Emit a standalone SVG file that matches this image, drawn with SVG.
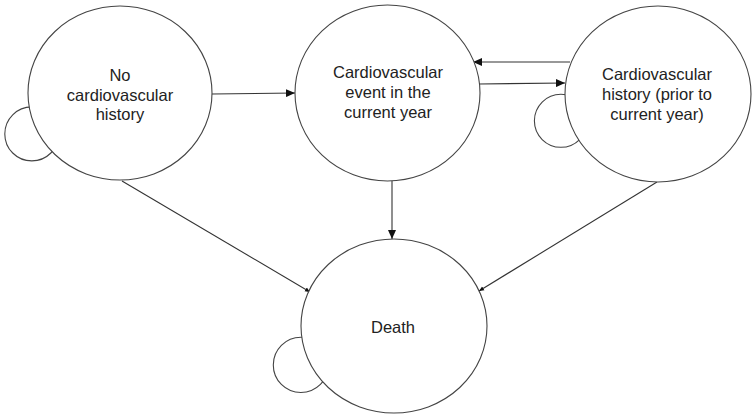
<svg xmlns="http://www.w3.org/2000/svg" width="755" height="417" viewBox="0 0 755 417">
<style>
.node{fill:#fff;stroke:#444;stroke-width:1.1}
.loop{fill:none;stroke:#444;stroke-width:1.1}
.edge{fill:none;stroke:#333;stroke-width:1.1}
.lbl{font-family:"Liberation Sans",Arial,sans-serif;font-size:16.5px;fill:#222;text-anchor:middle}
</style>
<defs>
<marker id="arr" markerWidth="10" markerHeight="8" refX="9" refY="4" orient="auto" markerUnits="userSpaceOnUse">
<path d="M0,0 L9,4 L0,8 Z" fill="#111"/>
</marker>
<marker id="arrs" markerWidth="6" markerHeight="6" refX="5" refY="3" orient="auto" markerUnits="userSpaceOnUse">
<path d="M0,0.8 L5,3 L0,5.2 Z" fill="#111"/>
</marker>
</defs>
<rect width="755" height="417" fill="#fff"/>
<g id="connectors">
<path class="edge" d="M212,94 L295,93" marker-end="url(#arr)"/>
<path class="edge" d="M479,84 L565,83" marker-end="url(#arr)"/>
<path class="edge" d="M570,62 L473,62" marker-end="url(#arr)"/>
<path class="edge" d="M392,181 L392,239" marker-end="url(#arr)"/>
<path class="edge" d="M122,181 L310,292" marker-end="url(#arrs)"/>
<path class="edge" d="M657,182 L479,291" marker-end="url(#arrs)"/>
<circle class="loop" cx="31.8" cy="133.9" r="27"/>
<circle class="loop" cx="560.9" cy="120.8" r="26.5"/>
<circle class="loop" cx="300.9" cy="364.9" r="27.6"/>
</g>
<g id="node-no-history">
<ellipse class="node" cx="120" cy="93" rx="92" ry="87"/>
<text class="lbl" x="120" y="81">No</text>
<text class="lbl" x="120" y="101">cardiovascular</text>
<text class="lbl" x="120" y="120">history</text>
</g>
<g id="node-event">
<ellipse class="node" cx="387.5" cy="93" rx="92.5" ry="88"/>
<text class="lbl" x="388" y="78">Cardiovascular</text>
<text class="lbl" x="388" y="98">event in the</text>
<text class="lbl" x="388" y="118">current year</text>
</g>
<g id="node-history">
<ellipse class="node" cx="658" cy="94" rx="93" ry="88"/>
<text class="lbl" x="657" y="80">Cardiovascular</text>
<text class="lbl" x="657" y="100">history (prior to</text>
<text class="lbl" x="657" y="120">current year)</text>
</g>
<g id="node-death">
<ellipse class="node" cx="394" cy="326" rx="93" ry="87"/>
<text class="lbl" x="393" y="333">Death</text>
</g>
</svg>
